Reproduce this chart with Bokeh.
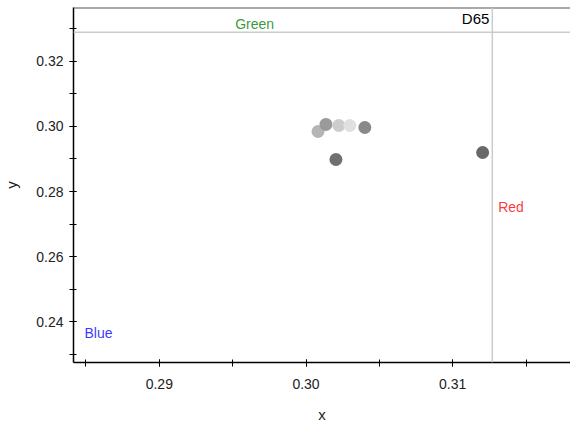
from bokeh.plotting import figure
from bokeh.models import Span, Label, Range1d, SingleIntervalTicker, ColumnDataSource, NumeralTickFormatter
from bokeh.embed import file_html
from bokeh.resources import INLINE

# Chromaticity samples (x, y) and their gray shades
cx = [0.30082, 0.30136, 0.30224, 0.30299, 0.30401, 0.30204, 0.31204]
cy = [0.29846, 0.30062, 0.30030, 0.30030, 0.29969, 0.28985, 0.29200]
shade = ["#b5b5b5", "#9a9a9a", "#cccccc", "#e0e0e0", "#8a8a8a", "#707070", "#686868"]

# White point
d65_x = 0.3127
d65_y = 0.3290

# Primary labels
prim_names = ["Green", "Red", "Blue"]
prim_x = [0.2965, 0.3131, 0.2849]
prim_y = [0.3292, 0.2751, 0.2366]
prim_col = ["green", "red", "blue"]

FONT = "Liberation Sans"

p = figure(width=570, height=425, output_backend="svg", toolbar_location=None,
           title_location=None,
           x_range=Range1d(0.28415, 0.31803), y_range=Range1d(0.2274, 0.3366),
           min_border_left=72, min_border_right=0, min_border_top=7, min_border_bottom=10)
p.outline_line_color = None
p.grid.visible = False
p.background_fill_color = "white"

p.xaxis.ticker = SingleIntervalTicker(interval=0.01, num_minor_ticks=2)
p.yaxis.ticker = SingleIntervalTicker(interval=0.02, num_minor_ticks=2)
p.xaxis.formatter = NumeralTickFormatter(format="0.00")
p.yaxis.formatter = NumeralTickFormatter(format="0.00")
for ax in (p.xaxis[0], p.yaxis[0]):
    ax.axis_line_color = "black"
    ax.axis_line_width = 1.5
    ax.major_tick_in = 3
    ax.major_tick_out = 4
    ax.minor_tick_in = 3
    ax.minor_tick_out = 4
    ax.major_tick_line_color = "black"
    ax.minor_tick_line_color = "black"
    ax.major_label_text_font = FONT
    ax.major_label_text_font_size = "14px"
    ax.major_label_text_color = "#222222"
    ax.axis_label_text_font = FONT
    ax.axis_label_text_font_size = "15px"
    ax.axis_label_text_font_style = "normal"
    ax.axis_label_text_color = "#222222"
p.xaxis.axis_label = "x"
p.yaxis.axis_label = "y"
p.xaxis.major_label_standoff = 12
p.xaxis.axis_label_standoff = 14
p.yaxis.major_label_standoff = 6
p.yaxis.axis_label_standoff = 13

# top border
p.add_layout(Span(location=0.3366, dimension="width", line_color="#555555", line_width=2))

# D65 crosshair
p.add_layout(Span(location=d65_x, dimension="height", line_color="#cccccc", line_width=1.5))
p.add_layout(Span(location=d65_y, dimension="width", line_color="#cccccc", line_width=1.5))
p.add_layout(Label(x=d65_x, y=d65_y, text="D65", text_align="right", text_baseline="bottom",
                   x_offset=-3, y_offset=5, text_font=FONT, text_font_size="15px",
                   text_color="black"))

for name, x, y, c in zip(prim_names, prim_x, prim_y, prim_col):
    p.add_layout(Label(x=x, y=y, text=name, text_align="left" if name != "Green" else "center",
                       text_baseline="bottom" if name == "Green" else "middle",
                       text_font=FONT, text_font_size="14px", text_color=c, text_alpha=0.8))

src = ColumnDataSource(dict(x=cx, y=cy, c=shade))
p.scatter("x", "y", source=src, size=13, fill_color="c", line_color=None)

open("out.html", "w").write(file_html(p, INLINE))
